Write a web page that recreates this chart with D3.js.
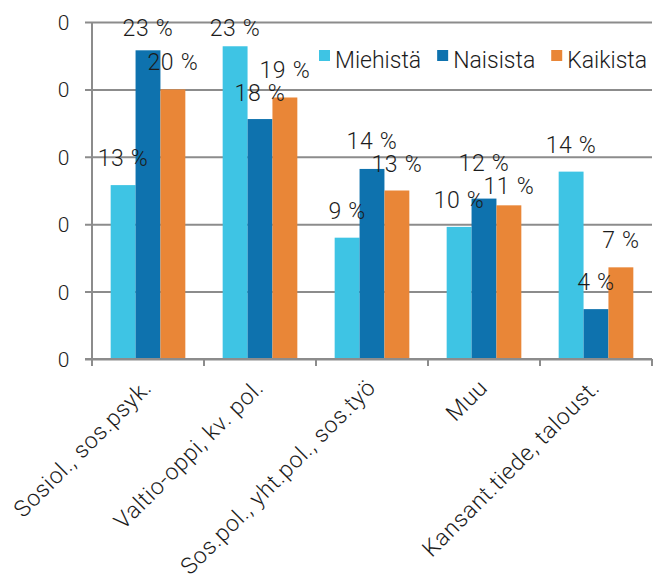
<!DOCTYPE html>
<html>
<head>
<meta charset="utf-8">
<script src="https://cdn.jsdelivr.net/npm/d3@7"></script>
<style>
  body { margin: 0; background: #fff; }
  text { font-family: Roboto, "Noto Sans", sans-serif; font-weight: 300; fill: #1c1c1c; letter-spacing: 0.7px; }
  text.legend-label { letter-spacing: 0px; }
</style>
</head>
<body>
<div class="view-container"></div>
<script>
'use strict';

var WIDTH = 655;
var HEIGHT = 584;
var LIGHT_BLUE = '#3ec4e4';
var DARK_BLUE = '#0e72ae';
var ORANGE = '#e98637';
var GRID = '#8c8c8c';
var FONT_SIZE = '23px';

var categories = ['Sosiol., sos.psyk.', 'Valtio-oppi, kv. pol.', 'Sos.pol., yht.pol., sos.työ', 'Muu', 'Kansant.tiede, taloust.'];
var seriesNames = ['Miehistä', 'Naisista', 'Kaikista'];
var miehista = [0.129, 0.232, 0.090, 0.098, 0.139];
var naisista = [0.229, 0.178, 0.141, 0.119, 0.037];
var kaikista = [0.200, 0.194, 0.125, 0.114, 0.068];
var yTicks = [0, 0.05, 0.10, 0.15, 0.20, 0.25];
var yTickLabels = ['0', '0', '0', '0', '0', '0'];

var seriesValues = [miehista, naisista, kaikista];
var colors = [LIGHT_BLUE, DARK_BLUE, ORANGE];

var margin = {left: 92, right: 3, top: 22, bottom: 225};

var svg = d3.select('.view-container').append('svg')
	.attr('width', WIDTH)
	.attr('height', HEIGHT);

var x = d3.scaleBand()
	.domain(categories)
	.range([margin.left, WIDTH - margin.right]);

var xInner = d3.scaleBand()
	.domain(seriesNames)
	.range([0, x.bandwidth()])
	.paddingOuter(0.75);

var y = d3.scaleLinear()
	.domain([0, 0.25])
	.range([HEIGHT - margin.bottom, margin.top]);

// gridlines + y axis labels
var yAxis = d3.axisLeft(y)
	.tickValues(yTicks)
	.tickSize(-(WIDTH - margin.right - margin.left))
	.tickPadding(0)
	.tickFormat(function(d, i) { return yTickLabels[i]; });

var gy = svg.append('g')
	.attr('transform', 'translate(' + margin.left + ',0)')
	.call(yAxis);
gy.select('.domain').remove();
gy.selectAll('.tick line')
	.attr('x1', -7)
	.attr('stroke', GRID)
	.attr('stroke-width', 2);
gy.selectAll('.tick text')
	.attr('x', -22)
	.attr('dy', '0.36em')
	.style('font-size', '21px')
	.style('font-family', 'Roboto, sans-serif')
	.style('font-weight', 300)
	.attr('fill', '#1c1c1c');

// y axis line
svg.append('line')
	.attr('x1', margin.left).attr('x2', margin.left)
	.attr('y1', y(0.25)).attr('y2', y(0) + 7)
	.attr('stroke', GRID)
	.attr('stroke-width', 2);

// bars
var groups = svg.append('g').selectAll('g')
	.data(categories)
	.join('g')
	.attr('transform', function(d) { return 'translate(' + x(d) + ',0)'; });

groups.selectAll('rect')
	.data(function(d, i) {
		return seriesNames.map(function(s, j) { return {series: s, value: seriesValues[j][i], color: colors[j]}; });
	})
	.join('rect')
	.attr('x', function(d) { return xInner(d.series); })
	.attr('width', xInner.bandwidth())
	.attr('y', function(d) { return y(d.value); })
	.attr('height', function(d) { return y(0) - y(d.value); })
	.attr('fill', function(d) { return d.color; });

// x axis baseline and ticks
svg.append('line')
	.attr('x1', margin.left - 7).attr('x2', WIDTH - margin.right)
	.attr('y1', y(0)).attr('y2', y(0))
	.attr('stroke', GRID)
	.attr('stroke-width', 2);

var tickPositions = categories.map(function(c) { return x(c); }).concat([x.range()[1]]);
svg.append('g').selectAll('line')
	.data(tickPositions)
	.join('line')
	.attr('x1', function(d) { return d; }).attr('x2', function(d) { return d; })
	.attr('y1', y(0)).attr('y2', y(0) + 7)
	.attr('stroke', GRID)
	.attr('stroke-width', 2);

// category labels
svg.append('g').selectAll('text')
	.data(categories)
	.join('text')
	.attr('transform', function(d) {
		return 'translate(' + (x(d) + x.bandwidth() / 2 + 5) + ',' + (y(0) + 30) + ') rotate(-45)';
	})
	.attr('text-anchor', 'end')
	.style('font-size', FONT_SIZE)
	.text(function(d) { return d; });

// data labels, nudged apart when two neighbours collide
var LABEL_GAP = 19;
var MIN_SEP = 23;
groups.each(function(cat, i) {
	var items = seriesNames.map(function(s, j) {
		var v = seriesValues[j][i];
		return {series: s, value: v, base: Math.max(y(v) - LABEL_GAP, 36)};
	});
	for (var k = 1; k < items.length; k++) {
		var a = items[k - 1], b = items[k];
		var diff = Math.abs(a.base - b.base);
		if (diff < MIN_SEP && a.base > 40 && b.base > 40) {
			var mid = (a.base + b.base) / 2;
			var sign = a.base < b.base ? -1 : 1;
			a.base = mid + sign * MIN_SEP / 2;
			b.base = mid - sign * MIN_SEP / 2;
		}
	}
	d3.select(this).selectAll('text.value')
		.data(items)
		.join('text')
		.attr('class', 'value')
		.attr('x', function(d) { return xInner(d.series) + xInner.bandwidth() / 2; })
		.attr('y', function(d) { return d.base; })
		.attr('text-anchor', 'middle')
		.style('font-size', FONT_SIZE)
		.text(function(d) { return Math.round(d.value * 100) + ' %'; });
});

// legend
var legend = svg.append('g');
var lx = 0;
seriesNames.forEach(function(name, i) {
	legend.append('rect')
		.attr('x', lx).attr('y', 50)
		.attr('width', 11).attr('height', 11)
		.attr('fill', colors[i]);
	var t = legend.append('text')
		.attr('class', 'legend-label')
		.attr('x', lx + 16)
		.attr('y', 68)
		.style('font-size', FONT_SIZE)
		.text(name);
	lx += 16 + t.node().getBBox().width + 16;
});
var legendRight = lx - 16;
var legendX = Math.min(319, WIDTH - 5 - legendRight);
legend.attr('transform', 'translate(' + legendX + ',0)');
</script>
</body>
</html>
